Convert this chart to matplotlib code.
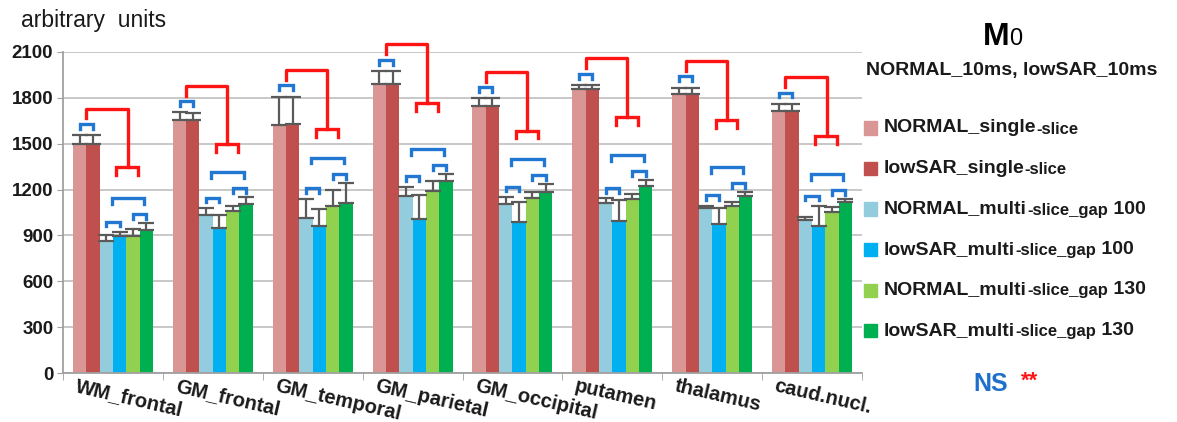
import matplotlib.pyplot as plt
import numpy as np

plt.rcParams['font.family'] = ['Liberation Sans', 'DejaVu Sans']

regions = ["WM_frontal", "GM_frontal", "GM_temporal", "GM_parietal",
           "GM_occipital", "putamen", "thalamus", "caud.nucl."]

# legend labels are split in (big, small, big) pieces
series_labels = [("NORMAL_single", "-slice", ""),
                 ("lowSAR_single", "-slice", ""),
                 ("NORMAL_multi", "-slice_gap", " 100"),
                 ("lowSAR_multi", "-slice_gap", " 100"),
                 ("NORMAL_multi", "-slice_gap", " 130"),
                 ("lowSAR_multi", "-slice_gap", " 130")]

normal_single = [1495, 1655, 1622, 1890, 1746, 1855, 1823, 1714]
lowsar_single = [1495, 1655, 1626, 1890, 1746, 1855, 1823, 1714]
normal_m100 = [863, 1033, 1013, 1158, 1105, 1114, 1077, 1000]
lowsar_m100 = [896, 947, 961, 1007, 986, 994, 972, 961]
normal_m130 = [896, 1060, 1095, 1193, 1147, 1138, 1092, 1053]
lowsar_m130 = [935, 1105, 1114, 1256, 1186, 1226, 1160, 1118]

err_normal_single = [60, 50, 185, 85, 50, 28, 43, 46]
err_lowsar_single = [60, 45, 180, 85, 50, 28, 43, 46]
err_normal_m100 = [40, 45, 125, 60, 45, 28, 18, 18]
err_lowsar_m100 = [25, 85, 110, 160, 135, 137, 110, 130]
err_normal_m130 = [45, 30, 100, 60, 35, 35, 24, 35]
err_lowsar_m130 = [45, 45, 130, 45, 48, 35, 24, 20]

values = [normal_single, lowsar_single, normal_m100, lowsar_m100, normal_m130, lowsar_m130]
errors = [err_normal_single, err_lowsar_single, err_normal_m100, err_lowsar_m100,
          err_normal_m130, err_lowsar_m130]
colors = ["#D99694", "#C0504D", "#93CDDD", "#00B0F0", "#92D050", "#00B050"]

blue = "#2277D2"
red = "#FF1414"
W, H = 1177, 422

fig = plt.figure(figsize=(W / 100, H / 100), dpi=100)
ax = fig.add_axes([63 / W, 1 - 373 / H, (862 - 63) / W, (373 - 52) / H])

x = np.arange(len(regions))
w = 0.8 / 6
for k in range(6):
    v = np.array(values[k])
    e = np.array(errors[k])
    ax.bar(x + (k - 2.5) * w, v, w, color=colors[k], zorder=2)
    ax.errorbar(x + (k - 2.5) * w, v, yerr=[np.zeros_like(e), e], fmt='none',
                ecolor="#5A5A5A", elinewidth=1.6, capsize=6, capthick=1.6, zorder=3)


def bx(i, kf):
    return i + (kf - 2.5) * w


def bracket(i, k1, k2, y, leg, color):
    ax.plot([bx(i, k1), bx(i, k1), bx(i, k2), bx(i, k2)], [y - leg, y, y, y - leg],
            color=color, lw=2.4, clip_on=False, zorder=4, solid_joinstyle='miter')


tops = [np.array(values[k]) + np.array(errors[k]) for k in range(6)]
for i in range(len(regions)):
    single_top = max(tops[0][i], tops[1][i])
    p23 = max(tops[2][i], tops[3][i]) + 70
    p45 = max(tops[4][i], tops[5][i]) + 60
    bracket(i, 0, 1, single_top + 75, 32, blue)
    bracket(i, 2, 3, p23, 32, blue)
    bracket(i, 4, 5, p45, 32, blue)
    bracket(i, 2.4, 4.85, max(p23, p45) + 105, 38, blue)
    rt = single_top + 175
    rl = rt - 385
    ax.plot([bx(i, 0.5), bx(i, 0.5), bx(i, 3.6), bx(i, 3.6)], [rt - 65, rt, rt, rl],
            color=red, lw=2.4, clip_on=False, zorder=4)
    bracket(i, 2.75, 4.4, rl, 50, red)

ax.set_ylim(0, 2100)
ax.set_xlim(-0.5, len(regions) - 0.5)
ax.set_yticks(range(0, 2101, 300))
ax.tick_params(axis='y', labelsize=13.5, length=4, color="#A0A0A0", pad=3, labelcolor="#1A1A1A")
for lab in ax.get_yticklabels():
    lab.set_fontweight('bold')
ax.set_xticks(x)
ax.set_xticklabels([])
ax.tick_params(axis='x', length=0)
ax.set_xticks(np.arange(-0.5, len(regions)), minor=True)
ax.tick_params(axis='x', which='minor', length=5, color="#A0A0A0")
ax.grid(axis='y', color="#C4C4C4", lw=1.3, zorder=0)
ax.set_axisbelow(True)
for s in ['top', 'right']:
    ax.spines[s].set_visible(False)
for s in ['left', 'bottom']:
    ax.spines[s].set_color("#A0A0A0")
    ax.spines[s].set_linewidth(1.3)

for i, name in enumerate(regions):
    ax.text(i - 0.35, -25, name, rotation=-13, rotation_mode='anchor', ha='left', va='top',
            fontsize=14.5, fontweight='bold', color="#1A1A1A", clip_on=False)

fig.text(21 / W, 1 - 21 / H, "arbitrary  units", fontsize=16.5, va='center', ha='left',
         color="#1A1A1A")

# title
t = fig.text(983 / W, 1 - 37 / H, "M", fontsize=23, fontweight='bold', va='center', ha='left')
ax.annotate("0", xy=(1, 0.08), xycoords=t, fontsize=17, va='bottom', ha='left',
            annotation_clip=False)
fig.text(866 / W, 1 - 71 / H, "NORMAL_10ms, lowSAR_10ms", fontsize=14, fontweight='bold',
         va='center', ha='left', color="#1A1A1A")

# legend
for k, (big, small, tail) in enumerate(series_labels):
    yc = 128 + k * 40.5
    fig.patches.append(plt.Rectangle((864 / W, 1 - (yc + 6.5) / H), 13 / W, 13 / H,
                                     transform=fig.transFigure, color=colors[k]))
    t1 = fig.text(884 / W, 1 - yc / H, big, fontsize=14, fontweight='bold', va='center',
                  ha='left', color="#1A1A1A")
    t2 = ax.annotate(small, xy=(1, 0), xycoords=t1, fontsize=12, fontweight='bold',
                     va='bottom', ha='left', color="#1A1A1A", annotation_clip=False)
    if tail:
        ax.annotate(tail, xy=(1, 0), xycoords=t2, fontsize=14, fontweight='bold',
                    va='bottom', ha='left', color="#1A1A1A", annotation_clip=False)

fig.text(973 / W, 1 - 384 / H, "NS", fontsize=18, fontweight='bold', color="#1F70CC",
         va='center', ha='left')
fig.text(1021 / W, 1 - 381 / H, "**", fontsize=16, fontweight='bold', color=red,
         va='center', ha='left')

fig.savefig("out.png", dpi=100)
